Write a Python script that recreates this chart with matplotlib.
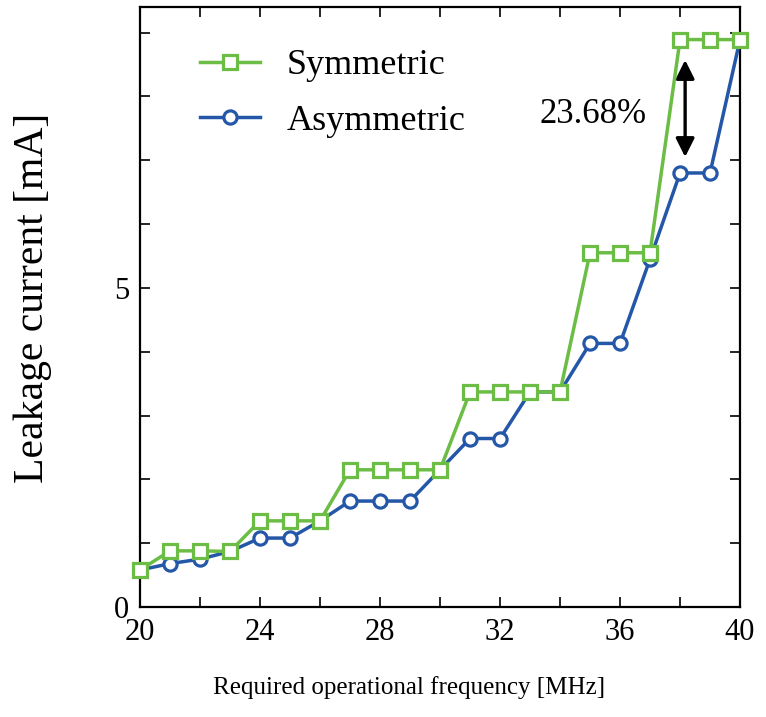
import numpy as np
import matplotlib
matplotlib.use("Agg")
import matplotlib.pyplot as plt
from matplotlib.ticker import MultipleLocator, FixedLocator, FuncFormatter

plt.rcParams['font.family'] = ['Liberation Serif', 'DejaVu Serif']

# data
freq = np.arange(20, 41)
symmetric = [0.58, 0.88, 0.88, 0.87, 1.35, 1.35, 1.35, 2.15, 2.15, 2.15, 2.15,
             3.37, 3.37, 3.37, 3.37, 5.55, 5.55, 5.55, 8.89, 8.89, 8.89]
asymmetric = [0.58, 0.68, 0.75, 0.87, 1.08, 1.08, 1.35, 1.66, 1.66, 1.66, 2.15,
              2.64, 2.64, 3.37, 3.37, 4.13, 4.13, 5.45, 6.80, 6.80, 8.89]
gap_label = "23.68%"

green = '#6cbd45'
blue = '#2457a8'

fig = plt.figure(figsize=(7.66, 7.17), dpi=100)
ax = fig.add_axes([0.1828, 0.1534, 0.7833, 0.8368])

ax.plot(freq, asymmetric, color=blue, lw=2.5, marker='o', ms=9.5, mew=2.3,
        mfc='white', mec=blue, label='Asymmetric', clip_on=False, zorder=3)
ax.plot(freq, symmetric, color=green, lw=2.5, marker='s', ms=9.5, mew=2.3,
        mfc='white', mec=green, label='Symmetric', clip_on=False, zorder=4)

# arrow showing the gap at 38 MHz
ax.annotate('', xy=(38.17, 7.05), xytext=(38.17, 8.57),
            arrowprops=dict(arrowstyle='<|-|>', color='black', lw=2.4,
                            mutation_scale=28, shrinkA=0, shrinkB=0))
ax.text(35.1, 7.71, gap_label, fontsize=25, ha='center', va='center')

ax.set_xlim(20, 40)
ax.set_ylim(0, 9.4)
ax.xaxis.set_major_locator(MultipleLocator(4))
ax.xaxis.set_minor_locator(MultipleLocator(2))
ax.yaxis.set_major_locator(FixedLocator([0, 5]))
ax.yaxis.set_minor_locator(MultipleLocator(1))
ax.yaxis.set_major_formatter(FuncFormatter(lambda v, p: '%d' % v))

ax.tick_params(which='both', direction='in', top=True, right=True,
               length=7, width=1.2, labelsize=22, pad=8)
for s in ax.spines.values():
    s.set_linewidth(1.6)

ax.set_xlabel('Required operational frequency [MHz]', fontsize=18)
ax.set_ylabel('Leakage current [mA]', fontsize=30)
ax.xaxis.set_label_coords(0.448, -0.115)
ax.yaxis.set_label_coords(-0.147, 0.515)

handles, labels = ax.get_legend_handles_labels()
ax.legend(handles[::-1], labels[::-1], loc='upper left',
          bbox_to_anchor=(0.1, 0.93), frameon=False, fontsize=26,
          handlelength=1.65, handletextpad=0.75, labelspacing=0.62,
          borderpad=0, borderaxespad=0)

fig.savefig('out.png', dpi=100)
